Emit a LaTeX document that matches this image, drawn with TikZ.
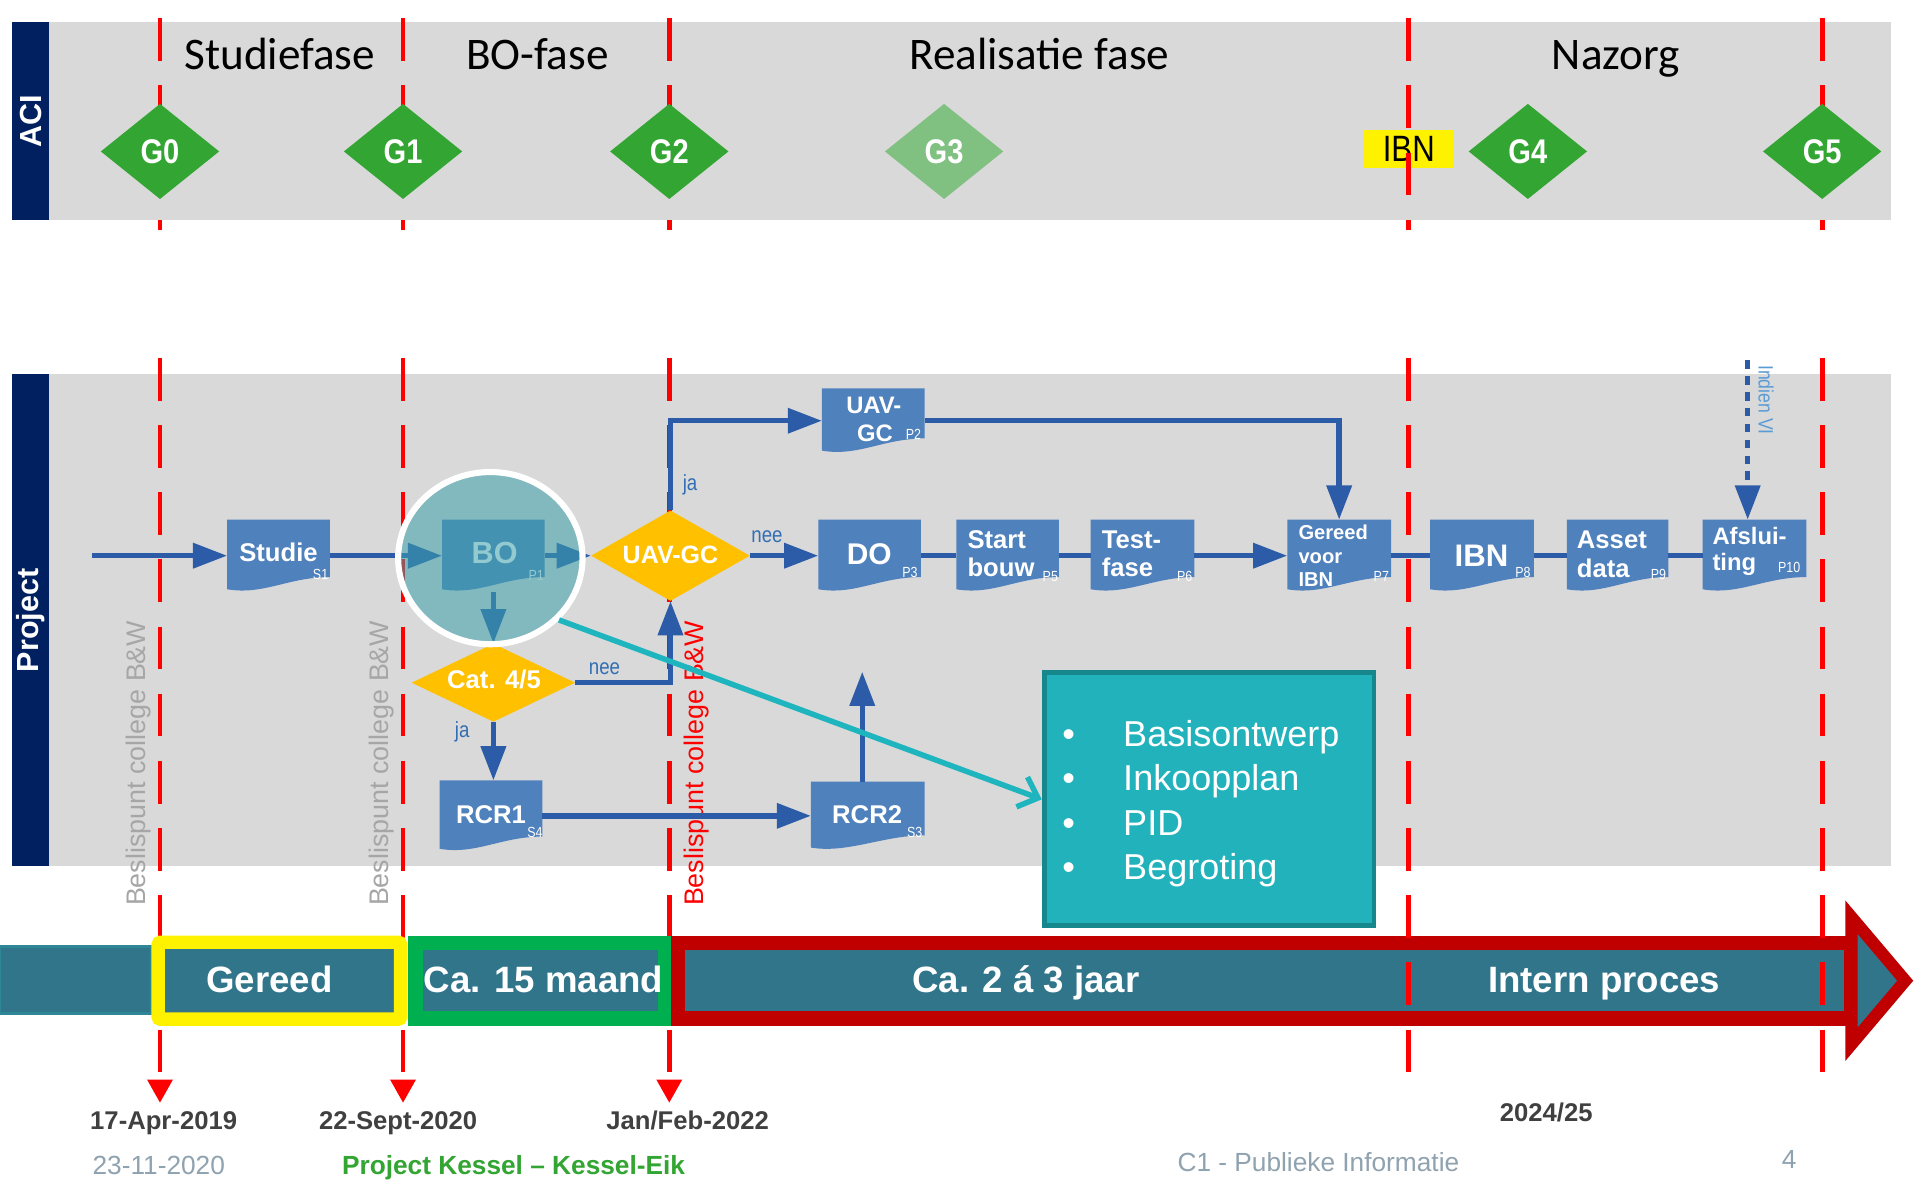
\documentclass[tikz,border=0pt]{standalone}
\usepackage{fontspec}
\setmainfont{Liberation Sans}
\newfontfamily\calfont{Carlito}
\newfontfamily\narrowfont[FakeStretch=0.85]{Liberation Sans}
\usetikzlibrary{shapes.geometric,arrows.meta}
\newcommand{\myfs}[1]{\fontsize{#1}{#1}\selectfont}
\definecolor{bandgray}{RGB}{217,217,217}
\definecolor{navy}{RGB}{0,32,96}
\definecolor{ggreen}{RGB}{51,165,50}
\definecolor{glight}{RGB}{128,192,128}
\definecolor{boxblue}{RGB}{79,129,189}
\definecolor{flowblue}{RGB}{44,92,168}
\definecolor{dorange}{RGB}{255,192,0}
\definecolor{labblue}{RGB}{50,110,180}
\definecolor{lightlab}{RGB}{91,155,213}
\definecolor{circteal}{RGB}{60,160,170}
\definecolor{cyanarr}{RGB}{31,181,190}
\definecolor{bulletfill}{RGB}{33,178,188}
\definecolor{bulletdraw}{RGB}{22,135,140}
\definecolor{barteal}{RGB}{49,117,138}
\definecolor{barteal2}{RGB}{45,135,150}
\definecolor{redframe}{RGB}{192,0,0}
\definecolor{greenframe}{RGB}{0,176,80}
\definecolor{dategray}{RGB}{64,64,64}
\definecolor{footgray}{RGB}{143,162,176}
\definecolor{footgreen}{RGB}{50,165,50}
\definecolor{besgray}{RGB}{166,166,166}
\begin{document}
\begin{tikzpicture}[x=1pt,y=-1pt,
  bartext/.style={text=white,font=\bfseries\myfs{25},inner sep=0pt},
  phase/.style={font=\calfont\myfs{37},anchor=base,inner sep=0pt},
  gdia/.style={diamond,fill=ggreen,minimum width=97pt,minimum height=78pt,inner sep=0pt,text=white,font=\narrowfont\bfseries\myfs{28}},
  reddash/.style={draw=red,line width=4pt,dash pattern=on 35pt off 20pt},
  redtip/.style={-{Triangle[length=19pt,width=20pt]}},
  flow/.style={draw=flowblue,line width=4.5pt,-{Triangle[length=28pt,width=20pt]}},
  conn/.style={draw=flowblue,line width=4.5pt},
  docbox/.style={inner sep=0pt,outer sep=0pt,minimum width=84pt,minimum height=59pt,fill=bandgray,
    path picture={\fill[boxblue] (path picture bounding box.north west) -- (path picture bounding box.north east)
      -- ([yshift=12pt]path picture bounding box.south east)
      .. controls ([xshift=-34pt,yshift=12pt]path picture bounding box.south east) and ([xshift=30pt,yshift=-3pt]path picture bounding box.south west)
      .. ([yshift=2pt]path picture bounding box.south west) -- cycle;}},
  boxtxt/.style={text=white,font=\bfseries\myfs{21},anchor=base,inner sep=0pt},
  subtxt/.style={text=white,font=\narrowfont\myfs{12},inner sep=0pt},
  odia/.style={diamond,fill=dorange,inner sep=0pt},
  lab/.style={text=labblue,font=\narrowfont\myfs{18},inner sep=0pt},
  beslis/.style={font=\myfs{22},rotate=90,anchor=west,inner sep=0pt},
  bulltxt/.style={text=white,font=\myfs{29.5},anchor=base west,inner sep=0pt},
  bulldot/.style={text=white,font=\myfs{29.5},anchor=base,inner sep=0pt},
  bartxt/.style={text=white,font=\bfseries\myfs{30},anchor=base,inner sep=0pt},
  datetxt/.style={text=dategray,font=\bfseries\myfs{21},anchor=base,inner sep=0pt},
  foot/.style={font=\myfs{21.5},anchor=base,inner sep=0pt}
]
\useasboundingbox (0,0) rectangle (1568,968);
\fill[white] (0,0) rectangle (1568,968);

% ACI band
\fill[bandgray] (40,18) rectangle (1548,180);
\fill[navy] (10,18) rectangle (40,180);
\node[bartext,rotate=90] (aci) at (25,99) {ACI};
\node[phase] (ph1) at (229,57) {Studiefase};
\node[phase] (ph2) at (440,57) {BO-fase};
\node[phase] (ph3) at (851,57) {Realisatie fase};
\node[phase] (ph4) at (1323,57) {Nazorg};
\node[fill=yellow,minimum width=73pt,minimum height=31pt,inner sep=0pt,font=\narrowfont\myfs{30}] (ibnaci) at (1153.5,122) {IBN};

% Project band
\fill[bandgray] (40,306) rectangle (1548,709);
\fill[navy] (10,306) rectangle (40,709);
\node[bartext,rotate=90] (proj) at (25,508) {Project};

% red dashed lines
\foreach \x/\n in {131/a,330/b,548/c,1153/d,1492/e} {
  \coordinate (top\n) at (\x,15); \coordinate (mid\n) at (\x,188);
  \draw[reddash] (top\n) -- (mid\n);}
\foreach \x/\n in {131/a,330/b,548/c} {
  \coordinate (ps\n) at (\x,293); \coordinate (pe\n) at (\x,903);
  \draw[reddash,redtip] (ps\n) -- (pe\n);}

% beslispunt
\node[beslis,text=besgray] (bes1) at (113.5,742) {Beslispunt college B\&W};
\node[beslis,text=besgray] (bes2) at (312.5,742) {Beslispunt college B\&W};
\node[beslis,text=red] (bes3) at (570,742) {Beslispunt college B\&W};

% process boxes
\node[docbox] (studie) at (228,455) {};
\node[docbox] (bo) at (404,455) {};
\node[docbox,minimum height=58pt] (rcr1) at (402,668) {};
\node[docbox,minimum width=93pt,minimum height=56pt] (rcr2) at (710.5,668) {};
\node[docbox,minimum height=53pt] (uavbox) at (715,344.5) {};
\node[docbox] (do) at (712,455) {};
\node[docbox] (startb) at (825,455) {};
\node[docbox,minimum width=85pt] (testf) at (935.5,455) {};
\node[docbox,minimum width=85pt] (gereed) at (1096.5,455) {};
\node[docbox,minimum width=85pt] (ibn) at (1213.5,455) {};
\node[docbox,minimum width=83pt] (asset) at (1324.5,455) {};
\node[docbox,minimum width=85pt] (afsl) at (1436.5,455) {};
\node[odia,minimum width=130pt,minimum height=74pt] (uavd) at (549,455) {};
\node[odia,minimum width=134pt,minimum height=64pt] (cat) at (404,559) {};

% connectors
\coordinate (start) at (75,455);
\draw[flow] (start) -- (studie);
\draw[flow] (studie) -- (bo);
\draw[flow] (bo) -- (uavd);
\draw[flow] (bo) -- (cat);
\draw[flow] (cat.east) -| (uavd.south);
\draw[flow] (cat.south) -- (cat.south |- rcr1.north);
\draw[flow] (rcr1) -- (rcr2);
\coordinate (rcrup) at (706,550);
\draw[flow] (rcrup |- rcr2.north) -- (rcrup);
\draw[flow] (uavd.north) |- (uavbox.west);
\draw[flow] (uavbox.east) -| (gereed.north);
\draw[flow] (uavd) -- (do);
\draw[conn] (do) -- (startb);
\draw[conn] (startb) -- (testf);
\draw[flow] (testf) -- (gereed);
\draw[conn] (gereed) -- (ibn);
\draw[conn] (ibn) -- (asset);
\draw[conn] (asset) -- (afsl);
\coordinate (indien) at (1431,295);
\draw[flow,dash pattern=on 7pt off 6pt] (indien) -- (indien |- afsl.north);

% labels
\node[lab] (ja1) at (565,397) {ja};
\node[lab] (nee1) at (628,439.5) {nee};
\node[lab] (nee2) at (495,547.5) {nee};
\node[lab] (ja2) at (378.5,599) {ja};
\node[lab,text=lightlab,rotate=-90,font=\narrowfont\myfs{17}] (indienlab) at (1446,327.5) {Indien VI};

% box texts
\node[boxtxt] (studie-t) at (228,460) {Studie};
\node[subtxt] (studie-s) at (262.5,470.5) {S1};
\node[boxtxt,font=\bfseries\myfs{25}] (bo-t) at (405,461.5) {BO};
\node[subtxt] (bo-s) at (439,471) {P1};
\node[boxtxt,font=\bfseries\myfs{20.5}] (uavd-t) at (549,461.5) {UAV-GC};
\node[boxtxt] (cat-t) at (404.5,563.5) {Cat. 4/5};
\node[boxtxt] (rcr1-t) at (402,674) {RCR1};
\node[subtxt] (rcr1-s) at (438,682) {S4};
\node[boxtxt] (rcr2-t) at (710,674) {RCR2};
\node[subtxt] (rcr2-s) at (749,682) {S3};
\node[boxtxt,font=\bfseries\myfs{19.5}] (uav1-t) at (715.5,338.5) {UAV-};
\node[boxtxt,font=\bfseries\myfs{19.5}] (uav2-t) at (716.5,361.7) {GC};
\node[subtxt] (uav-s) at (748,356) {P2};
\node[boxtxt,font=\bfseries\myfs{24.5}] (do-t) at (711.7,462.6) {DO};
\node[subtxt] (do-s) at (745,468.5) {P3};
\node[boxtxt,anchor=base west] (sb1) at (792,449) {Start};
\node[boxtxt,anchor=base west] (sb2) at (792,472) {bouw};
\node[subtxt] (sb-s) at (860,472) {P5};
\node[boxtxt,anchor=base west] (tf1) at (902,449) {Test-};
\node[boxtxt,anchor=base west] (tf2) at (902,472) {fase};
\node[subtxt] (tf-s) at (970,472) {P6};
\node[boxtxt,anchor=base west,font=\bfseries\myfs{16.5}] (gr1) at (1063,442) {Gereed};
\node[boxtxt,anchor=base west,font=\bfseries\myfs{16.5}] (gr2) at (1063,461) {voor};
\node[boxtxt,anchor=base west,font=\bfseries\myfs{16.5}] (gr3) at (1063,480.5) {IBN};
\node[subtxt] (gr-s) at (1131,472) {P7};
\node[boxtxt,font=\bfseries\myfs{25.5}] (ibn-t) at (1213,464) {IBN};
\node[subtxt] (ibn-s) at (1247,469) {P8};
\node[boxtxt,anchor=base west] (as1) at (1291,449) {Asset};
\node[boxtxt,anchor=base west] (as2) at (1291,473) {data};
\node[subtxt] (as-s) at (1358,470) {P9};
\node[boxtxt,anchor=base west,font=\bfseries\myfs{19.5}] (af1) at (1402,446) {Afslui-};
\node[boxtxt,anchor=base west,font=\bfseries\myfs{19.5}] (af2) at (1402,467) {ting};
\node[subtxt] (af-s) at (1465,465) {P10};

% BO highlight circle
\node[ellipse,minimum width=151pt,minimum height=141pt,fill=circteal,fill opacity=0.55,draw=white,line width=5pt] (circ) at (401.5,457) {};

% bullet box
\node[draw=bulletdraw,line width=4pt,fill=bulletfill,minimum width=270pt,minimum height=207pt,inner sep=0pt] (bullets) at (990,654.5) {};
\node[bulldot] (bd1) at (875,611.6) {\textbullet};
\node[bulldot] (bd2) at (875,647) {\textbullet};
\node[bulldot] (bd3) at (875,683.7) {\textbullet};
\node[bulldot] (bd4) at (875,720.4) {\textbullet};
\node[bulltxt] (bt1) at (919.5,611.6) {Basisontwerp};
\node[bulltxt] (bt2) at (919.5,647) {Inkoopplan};
\node[bulltxt] (bt3) at (919.5,683.7) {PID};
\node[bulltxt] (bt4) at (919.5,720.4) {Begroting};
\draw[cyanarr,line width=4.5pt,-{Straight Barb[length=14pt,width=26pt]}] (circ.-42) -- (bullets.west);

% timeline bar
\filldraw[fill=barteal,draw=barteal2,line width=2pt] (0,775) rectangle (124,830);
\draw[draw=yellow,line width=11pt,fill=barteal,rounded corners=2pt] (129.5,771.5) rectangle (328,834.5);
\draw[draw=greenframe,line width=12pt,fill=barteal] (340,772) rectangle (545,834);
\draw[draw=redframe,line width=12pt,fill=barteal] (555,772) rectangle (1516,834);
\draw[draw=redframe,line width=10pt,fill=barteal,line join=miter] (1516,751) -- (1560,803) -- (1516,855) -- cycle;
\node[bartxt] (tl-g) at (220.5,812.4) {Gereed};
\node[bartxt] (tl-15) at (445,812.4) {Ca. 15 maand};
\node[bartxt] (tl-23) at (840,812.4) {Ca. 2 á 3 jaar};
\node[bartxt] (tl-ip) at (1313.5,812.8) {Intern proces};

% red lines over bar
\foreach \x/\n in {1153/d,1492/e} {
  \coordinate (ps\n) at (\x,293); \coordinate (pe\n) at (\x,888);
  \draw[reddash] (ps\n) -- (pe\n);}

% gate diamonds
\node[gdia] (g0) at (131,124) {G0};
\node[gdia] (g1) at (330,124) {G1};
\node[gdia] (g2) at (548,124) {G2};
\node[gdia,fill=glight] (g3) at (773,124) {G3};
\node[gdia] (g4) at (1251,124) {G4};
\node[gdia] (g5) at (1492,124) {G5};

% dates and footer
\node[datetxt] (dt1) at (134,925) {17-Apr-2019};
\node[datetxt] (dt2) at (326,925) {22-Sept-2020};
\node[datetxt] (dt3) at (563,925) {Jan/Feb-2022};
\node[datetxt] (dt4) at (1266,918.4) {2024/25};
\node[foot,text=footgray] (ft1) at (130,962) {23-11-2020};
\node[foot,text=footgreen,font=\bfseries\myfs{21.5}] (ft2) at (420.5,962) {Project Kessel – Kessel-Eik};
\node[foot,text=footgray] (ft3) at (1079.5,959.3) {C1 - Publieke Informatie};
\node[foot,text=footgray] (ft4) at (1465,956.5) {4};
\end{tikzpicture}
\end{document}
